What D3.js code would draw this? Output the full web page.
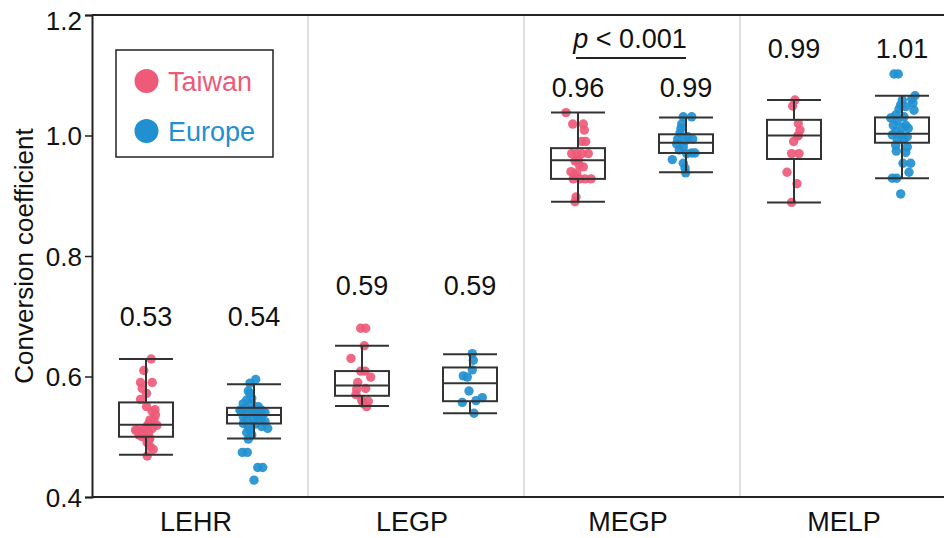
<!DOCTYPE html>
<html>
<head>
<meta charset="utf-8">
<script src="https://cdn.jsdelivr.net/npm/d3@7"></script>
<style>
  body { margin: 0; background: #fff; }
  svg text { font-family: "Liberation Sans", Arial, sans-serif; fill: #111; }
</style>
</head>
<body>
<div id="chart"></div>
<script>
var categories = ["LEHR", "LEGP", "MEGP", "MELP"];
var seriesNames = ["Taiwan", "Europe"];
var yTicks = [0.4, 0.6, 0.8, 1.0, 1.2];

// box stats: [lower whisker, q1, median, q3, upper whisker]
var taiwanBoxes = [
  [0.470, 0.500, 0.520, 0.557, 0.629],
  [0.551, 0.568, 0.585, 0.609, 0.651],
  [0.890, 0.928, 0.959, 0.979, 1.038],
  [0.889, 0.961, 1.000, 1.026, 1.059]
];
var europeBoxes = [
  [0.497, 0.522, 0.536, 0.548, 0.587],
  [0.539, 0.559, 0.589, 0.615, 0.637],
  [0.939, 0.971, 0.988, 1.002, 1.030],
  [0.929, 0.988, 1.003, 1.030, 1.066]
];

var taiwanMeans = ["0.53", "0.59", "0.96", "0.99"];
var europeMeans = ["0.54", "0.59", "0.99", "1.01"];

// individual points, one array per category
var taiwanPoints = [
  [0.629,0.610,0.590,0.590,0.580,0.572,0.562,0.550,0.545,0.542,0.536,0.528,0.528,0.522,0.519,0.518,0.514,0.511,0.511,0.511,0.507,0.507,0.503,0.503,0.500,0.497,0.495,0.490,0.483,0.479,0.468],
  [0.680,0.680,0.651,0.630,0.609,0.609,0.599,0.590,0.580,0.579,0.570,0.561,0.559,0.555,0.550],
  [1.038,1.019,1.019,1.009,0.990,0.990,0.970,0.970,0.970,0.970,0.960,0.958,0.951,0.948,0.940,0.938,0.934,0.928,0.928,0.928,0.928,0.898,0.890],
  [1.059,1.049,1.020,1.009,1.000,0.999,0.990,0.970,0.970,0.939,0.920,0.889]
];
// horizontal jitter, in units of 10px
var taiwanJitter = [
  [0.52,-0.22,-0.55,0.62,-0.38,0.05,-0.55,0.05,0.9,0.62,0.95,0.78,0.4,0.28,1.1,0.12,0.62,-0.88,-0.38,-1.05,0.28,-0.5,-0.22,-0.7,-0.4,0.38,0.28,0.12,0.45,0.72,0.12],
  [-0.13,0.37,0.23,-1.1,-0.13,0.3,0.87,-0.43,0.37,-0.53,-0.6,-0.03,0.63,0.13,0.47],
  [-1.2,-0.53,0.53,0.63,0.37,0.77,-0.63,-0.13,0.37,1.03,0.03,-0.3,0.13,0.53,-0.7,-0.13,-0.37,-0.47,0.2,0.7,1.3,-0.2,-0.3],
  [0.1,-0.14,0.43,0.6,0.43,0.36,-0.04,-0.24,0.5,-0.7,0.3,-0.24]
];
var europePoints = [
  [0.595,0.589,0.576,0.572,0.564,0.561,0.555,0.555,0.550,0.547,0.544,0.544,0.544,0.542,0.542,0.540,0.539,0.536,0.533,0.533,0.531,0.528,0.528,0.525,0.522,0.521,0.517,0.517,0.514,0.511,0.507,0.503,0.496,0.474,0.474,0.449,0.449,0.428],
  [0.638,0.627,0.611,0.601,0.599,0.576,0.565,0.560,0.557,0.539],
  [1.031,1.031,1.019,1.012,1.004,0.998,0.994,0.991,0.994,0.986,0.981,0.976,0.971,0.970,0.960,0.954,0.946,0.938,0.971],
  [1.102,1.102,1.066,1.060,1.059,1.054,1.051,1.044,1.042,1.048,1.034,1.031,1.029,1.024,1.017,1.017,1.013,1.012,1.007,1.001,1.001,0.998,0.993,0.994,0.984,0.981,0.974,0.972,0.954,0.954,0.939,0.929,0.929,0.903]
];
var europeJitter = [
  [0.17,-0.4,-0.57,-0.4,-0.23,-0.73,-1.07,-0.23,0.43,-0.9,0.77,-1.4,-0.23,-1.23,0.1,1.1,-0.57,0.27,-1.07,0.43,0.77,-0.73,-0.07,1.1,-1.07,0.1,-0.57,0.77,1.37,-0.4,-0.73,-0.23,-0.57,-1.17,-0.67,0.37,0.87,0],
  [0.23,0.33,0.23,-0.67,-0.27,-0.1,1.23,0.6,-0.77,0.4],
  [-0.27,0.57,-0.43,-0.5,-0.6,0.17,-0.83,-0.1,0.67,-0.93,-0.27,-0.67,0.57,0.07,-1.37,-0.27,-0.1,-0.03,0.9],
  [-0.8,-0.37,1.3,0.97,0.03,1.1,-0.13,-0.3,1.2,0.37,-0.63,0.2,-1.13,-0.47,-0.87,0.37,0.03,0.63,-0.63,-0.97,-0.13,0.53,-0.47,0.2,-0.63,0.53,-0.57,0.37,0.1,0.87,0.7,-0.97,-0.53,-0.13]
];

var colors = { Taiwan: "#ee5a78", Europe: "#2190d1" };

var width = 944, height = 538;
var margin = { left: 92, top: 15, bottom: 41 };
var boxW = 54;
var labelY = [326, 295, 97, 58];

var svg = d3.select("#chart")
  .append("svg")
    .attr("width", width)
    .attr("height", height);

var x = d3.scaleBand()
  .domain(categories)
  .range([margin.left, margin.left + 4 * 216]);

var xs = d3.scalePoint()
  .domain(seriesNames)
  .range([0, x.bandwidth()])
  .padding(0.5);

var y = d3.scaleLinear()
  .domain([0.4, 1.2])
  .range([height - margin.bottom, margin.top]);

// light separators between categories
svg.selectAll(".sep")
  .data(categories.slice(1))
  .enter()
  .append("line")
    .attr("x1", function(d) { return x(d); })
    .attr("x2", function(d) { return x(d); })
    .attr("y1", y(1.2))
    .attr("y2", y(0.4))
    .attr("stroke", "#d4d4d4")
    .attr("stroke-width", 1.5);

// frame
svg.append("line")
  .attr("x1", margin.left).attr("x2", width)
  .attr("y1", y(1.2)).attr("y2", y(1.2))
  .attr("stroke", "#222").attr("stroke-width", 2);
svg.append("line")
  .attr("x1", margin.left).attr("x2", width)
  .attr("y1", y(0.4)).attr("y2", y(0.4))
  .attr("stroke", "#222").attr("stroke-width", 2);

var yAxis = svg.append("g")
  .attr("transform", "translate(" + margin.left + ",0)")
  .call(d3.axisLeft(y).tickValues(yTicks).tickFormat(d3.format(".1f")).tickSize(7).tickPadding(3));
yAxis.select(".domain").attr("stroke", "#222").attr("stroke-width", 2);
yAxis.selectAll(".tick line").attr("stroke", "#222").attr("stroke-width", 1.5);
yAxis.selectAll(".tick text")
  .attr("font-size", 26)
  .attr("fill", "#111")
  .attr("dy", function(d) { return d === 1.2 ? "0.55em" : "0.36em"; });

svg.append("text")
  .attr("transform", "translate(33," + y(0.8) + ") rotate(-90)")
  .attr("text-anchor", "middle")
  .attr("font-size", 26)
  .text("Conversion coefficient");

// category labels
svg.selectAll(".cat")
  .data(categories)
  .enter()
  .append("text")
    .attr("x", function(d) { return x(d) + x.bandwidth() / 2 - 4; })
    .attr("y", 531)
    .attr("text-anchor", "middle")
    .attr("font-size", 27)
    .text(function(d) { return d; });

var series = [
  { name: "Taiwan", boxes: taiwanBoxes, points: taiwanPoints, jitter: taiwanJitter, means: taiwanMeans },
  { name: "Europe", boxes: europeBoxes, points: europePoints, jitter: europeJitter, means: europeMeans }
];

series.forEach(function(s) {
  categories.forEach(function(cat, i) {
    var cx = x(cat) + xs(s.name);

    // points first, box lines drawn over them
    svg.append("g").selectAll("circle")
      .data(s.points[i])
      .enter()
      .append("circle")
        .attr("cx", function(d, k) { return cx + s.jitter[i][k] * 10; })
        .attr("cy", function(d) { return y(d); })
        .attr("r", 4.7)
        .attr("fill", colors[s.name])
        .attr("fill-opacity", 0.92);

    var b = s.boxes[i];
    var g = svg.append("g")
      .attr("stroke", "#333")
      .attr("stroke-width", 2)
      .attr("fill", "none");
    g.append("line").attr("x1", cx).attr("x2", cx).attr("y1", y(b[0])).attr("y2", y(b[1]));
    g.append("line").attr("x1", cx).attr("x2", cx).attr("y1", y(b[3])).attr("y2", y(b[4]));
    g.append("line").attr("x1", cx - boxW / 2).attr("x2", cx + boxW / 2).attr("y1", y(b[0])).attr("y2", y(b[0]));
    g.append("line").attr("x1", cx - boxW / 2).attr("x2", cx + boxW / 2).attr("y1", y(b[4])).attr("y2", y(b[4]));
    g.append("rect")
      .attr("x", cx - boxW / 2)
      .attr("y", y(b[3]))
      .attr("width", boxW)
      .attr("height", y(b[1]) - y(b[3]));
    g.append("line").attr("x1", cx - boxW / 2).attr("x2", cx + boxW / 2).attr("y1", y(b[2])).attr("y2", y(b[2]));

    svg.append("text")
      .attr("x", cx)
      .attr("y", labelY[i])
      .attr("text-anchor", "middle")
      .attr("font-size", 27)
      .text(s.means[i]);
  });
});

// significance annotation over MEGP
var megpMid = x("MEGP") + x.bandwidth() / 2;
svg.append("line")
  .attr("x1", x("MEGP") + xs("Taiwan") - 2)
  .attr("x2", x("MEGP") + xs("Europe"))
  .attr("y1", 58).attr("y2", 58)
  .attr("stroke", "#222").attr("stroke-width", 2);
var pt = svg.append("text")
  .attr("x", megpMid - 2)
  .attr("y", 48)
  .attr("text-anchor", "middle")
  .attr("font-size", 27);
pt.append("tspan").attr("font-style", "italic").text("p");
pt.append("tspan").text(" < 0.001");

// legend
var legend = svg.append("g");
legend.append("rect")
  .attr("x", 116).attr("y", 50)
  .attr("width", 157).attr("height", 107)
  .attr("fill", "#fff")
  .attr("stroke", "#222")
  .attr("stroke-width", 1.5);
seriesNames.forEach(function(name, i) {
  legend.append("circle")
    .attr("cx", 146.5)
    .attr("cy", 81 + i * 50)
    .attr("r", 12)
    .attr("fill", colors[name]);
  legend.append("text")
    .attr("x", 168)
    .attr("y", 91 + i * 50)
    .attr("font-size", 27)
    .style("fill", colors[name])
    .text(name);
});
</script>
</body>
</html>
